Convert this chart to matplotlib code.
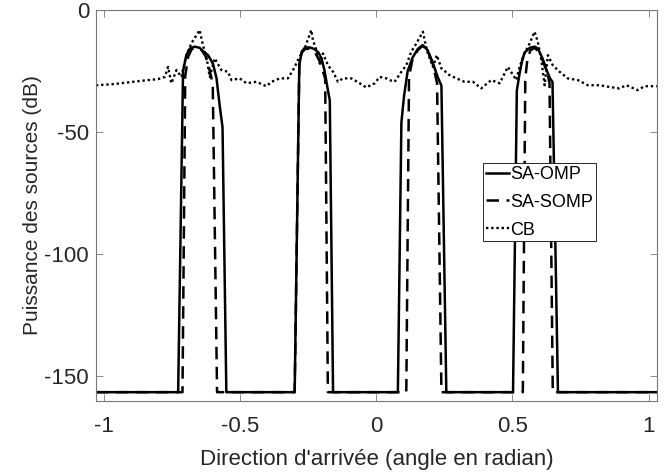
import matplotlib
matplotlib.use("Agg")
import matplotlib.pyplot as plt
import numpy as np

plt.rcParams['font.family'] = ['Liberation Sans', 'DejaVu Sans']
plt.rcParams['axes.unicode_minus'] = False

FLOOR = -156.5  # noise floor of the sparse methods (dB)
X_MIN = -np.deg2rad(59)
X_MAX = np.deg2rad(59)

# SA-OMP estimate, one list per source (angle in rad, power in dB)
omp_x1 = [-0.728, -0.710, -0.698, -0.685, -0.667, -0.649, -0.630, -0.618, -0.600, -0.587, -0.575, -0.565, -0.551]
omp_y1 = [FLOOR, -25, -18.5, -15.8, -15, -15.5, -17.5, -18.5, -22, -28, -39.5, -48, FLOOR]
omp_x2 = [-0.300, -0.283, -0.274, -0.263, -0.245, -0.227, -0.212, -0.201, -0.190, -0.180, -0.171, -0.159]
omp_y2 = [FLOOR, -22.5, -17, -15.5, -15.3, -16, -17.5, -20, -25, -31.5, -37, FLOOR]
omp_x3 = [0.079, 0.092, 0.102, 0.115, 0.133, 0.152, 0.170, 0.188, 0.207, 0.225, 0.239, 0.257]
omp_y3 = [FLOOR, -46, -35, -25, -19.5, -16, -14.4, -16.4, -21.5, -27.4, -31, FLOOR]
omp_x4 = [0.502, 0.516, 0.526, 0.535, 0.544, 0.563, 0.581, 0.593, 0.611, 0.625, 0.638, 0.647, 0.667]
omp_y4 = [FLOOR, -33, -26, -21, -17.5, -15.5, -15, -15.7, -20, -24.6, -28, -29.5, FLOOR]

# SA-SOMP estimate
somp_x1 = [-0.712, -0.702, -0.691, -0.678, -0.660, -0.641, -0.627, -0.614, -0.601, -0.585]
somp_y1 = [FLOOR, -27, -19, -16, -15.5, -16.5, -19, -24, -30, FLOOR]
somp_x2 = [-0.300, -0.283, -0.274, -0.263, -0.245, -0.227, -0.208, -0.188, -0.178]
somp_y2 = [FLOOR, -22.5, -17.5, -16, -15.8, -17, -21, -28, FLOOR]
somp_x3 = [0.110, 0.120, 0.133, 0.152, 0.170, 0.188, 0.207, 0.223, 0.239]
somp_y3 = [FLOOR, -27.5, -20, -16.5, -14.6, -16.5, -22, -30, FLOOR]
somp_x4 = [0.538, 0.547, 0.555, 0.566, 0.581, 0.596, 0.614, 0.629, 0.636, 0.648]
somp_y4 = [FLOOR, -28, -20, -16.5, -15.5, -17, -21.5, -26, -30, FLOOR]

# conventional beamforming (CB)
cb_x = [-1.030, -1.027, -0.961, -0.894, -0.838, -0.802, -0.777, -0.765, -0.753, -0.734, -0.716,
        -0.698, -0.679, -0.649, -0.637, -0.624, -0.612, -0.594, -0.569, -0.545, -0.532, -0.502,
        -0.477, -0.441, -0.404, -0.385, -0.355, -0.325, -0.306, -0.282, -0.263, -0.239, -0.233,
        -0.220, -0.208, -0.196, -0.178, -0.159, -0.141, -0.123, -0.092, -0.061, -0.037, -0.006,
        0.012, 0.037, 0.049, 0.067, 0.092, 0.110, 0.128, 0.147, 0.171, 0.177, 0.189, 0.208,
        0.222, 0.239, 0.269, 0.294, 0.324, 0.355, 0.385, 0.422, 0.453, 0.483, 0.514, 0.526,
        0.544, 0.563, 0.581, 0.593, 0.606, 0.618, 0.630, 0.648, 0.673, 0.703, 0.740, 0.777,
        0.820, 0.856, 0.893, 0.918, 0.960, 0.985, 1.015, 1.030]
cb_y = [-30.8, -30.8, -30.3, -29.4, -28.7, -28.3, -27.4, -23.3, -30, -24.6, -27.4,
        -18.5, -13.6, -8.2, -14.4, -19.2, -27.4, -19.8, -24.6, -25.3, -28.7, -28,
        -30, -29.4, -31.2, -29.4, -28, -28, -24.6, -19.2, -15.7, -8.2, -12.3,
        -16.4, -21.9, -17.8, -22.6, -25.3, -29.4, -28, -28, -30, -31.7, -30,
        -27.4, -28, -28.7, -29.4, -25.3, -22.6, -17.1, -13.7, -8.9, -12.3, -17.8, -23.3,
        -18.5, -23.9, -26.7, -28, -29.4, -29.4, -32.1, -28.7, -30, -23.3, -28.7, -23.3,
        -17.8, -13.7, -8.9, -13, -20.5, -30.8, -18.5, -22.6, -25.3, -28, -28.7, -30.8,
        -30.8, -31.5, -32.1, -30.8, -32.8, -31.2, -31.2, -31.2]


def full_curve(parts):
    # glue the peaks together on the floor level
    xs = [X_MIN]
    ys = [FLOOR]
    for px, py in parts:
        xs += px
        ys += py
    xs.append(X_MAX)
    ys.append(FLOOR)
    return xs, ys


omp_x, omp_y = full_curve([(omp_x1, omp_y1), (omp_x2, omp_y2), (omp_x3, omp_y3), (omp_x4, omp_y4)])
somp_x, somp_y = full_curve([(somp_x1, somp_y1), (somp_x2, somp_y2), (somp_x3, somp_y3), (somp_x4, somp_y4)])

fig = plt.figure(figsize=(6.68, 4.72), dpi=100)
ax = fig.add_axes([0.1437, 0.151, 0.8394, 0.8278])

ax.plot(omp_x, omp_y, color='black', linewidth=1.8, label='SA-OMP')
ax.plot(somp_x, somp_y, color='black', linewidth=1.8, linestyle=(0, (5, 3)), label='SA-SOMP')
ax.plot(cb_x, cb_y, color='black', linewidth=1.7, linestyle=(0, (1, 1.2)), label='CB')

ax.set_xlim(X_MIN, X_MAX)
ax.set_ylim(-160, 0)
ax.set_xticks([-1, -0.5, 0, 0.5, 1])
ax.set_xticklabels(['-1', '-0.5', '0', '0.5', '1'])
ax.set_yticks([-150, -100, -50, 0])

for sp in ax.spines.values():
    sp.set_color('#777777')
    sp.set_linewidth(0.8)
ax.tick_params(direction='in', top=True, right=True, length=5, width=0.6,
               color='#777777', labelsize=16, labelcolor='#262626')
ax.tick_params(axis='x', pad=11)
ax.tick_params(axis='y', pad=5)

ax.set_xlabel("Direction d'arrivée (angle en radian)", fontsize=16, color='#262626')
ax.set_ylabel('Puissance des sources (dB)', fontsize=15, color='#262626')
ax.xaxis.set_label_coords(0.5, -0.124)
ax.yaxis.set_label_coords(-0.096, 0.5)

leg = ax.legend(loc='upper left', bbox_to_anchor=(0.69, 0.608), borderaxespad=0,
                fontsize=13, handlelength=1.3, handletextpad=0.05, borderpad=0.15,
                labelspacing=0.6, fancybox=False, framealpha=1)
leg.get_frame().set_edgecolor('#262626')
leg.get_frame().set_linewidth(0.7)

fig.savefig('out.png', dpi=100)
